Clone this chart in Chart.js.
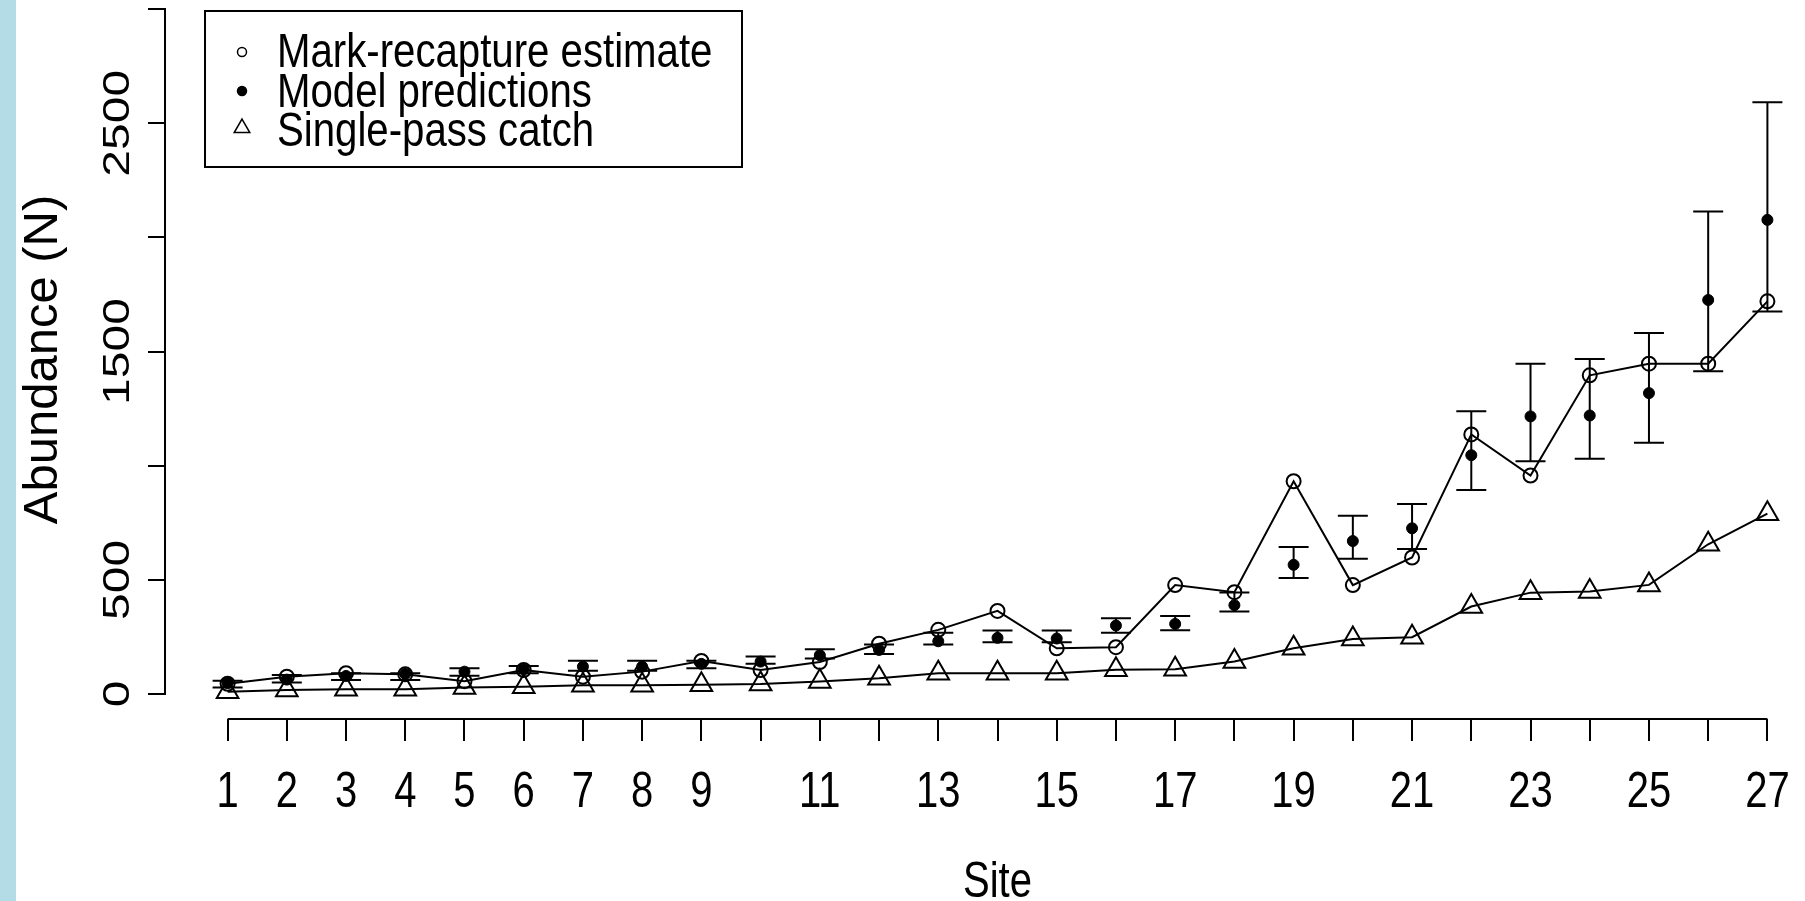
<!DOCTYPE html>
<html>
<head>
<meta charset="utf-8">
<script src="https://cdn.jsdelivr.net/npm/chart.js@4.4.0/dist/chart.umd.min.js"></script>
<style>
html, body { margin: 0; padding: 0; overflow: hidden; background: #fff; }
#wrap { width: 1829px; height: 901px; }
</style>
</head>
<body>
<div id="wrap"><canvas id="myChart" width="1829" height="901"></canvas></div>
<script>
var sites = [1, 2, 3, 4, 5, 6, 7, 8, 9, 10, 11, 12, 13, 14, 15, 16, 17, 18, 19, 20, 21, 22, 23, 24, 25, 26, 27];
var markRecapture = [45, 76, 91, 86, 56, 105, 76, 98, 145, 105, 140, 220, 281, 364, 200, 205, 477, 446, 932, 477, 598, 1137, 957, 1396, 1447, 1447, 1720];
var modelPred = [48, 63, 79, 88, 98, 108, 120, 120, 132, 142, 170, 193, 231, 246, 243, 300, 307, 389, 566, 670, 726, 1046, 1216, 1220, 1318, 1726, 2077];
var modelLower = [29, 50, 61, 61, 80, 91, 102, 102, 113, 132, 155, 175, 217, 227, 227, 268, 279, 361, 508, 592, 635, 894, 1020, 1031, 1101, 1414, 1675];
var modelUpper = [58, 83, 91, 91, 113, 123, 146, 146, 146, 164, 196, 217, 268, 278, 278, 332, 342, 445, 644, 781, 832, 1239, 1447, 1467, 1581, 2114, 2592];
var singlePass = [10, 18, 21, 21, 28, 32, 38, 38, 41, 44, 55, 69, 91, 91, 91, 106, 108, 142, 200, 241, 249, 383, 444, 449, 478, 656, 790];

var xTickLabels = ["1", "2", "3", "4", "5", "6", "7", "8", "9", "", "11", "", "13", "", "15", "", "17", "", "19", "", "21", "", "23", "", "25", "", "27"];
var yTickValues = [0, 500, 1000, 1500, 2000, 2500, 3000];
var yTickLabels = ["0", "500", "", "1500", "", "2500", ""];

var sans = "'Liberation Sans', Arial, sans-serif";

function points(values) {
    return sites.map(function (s, i) { return { x: s, y: values[i] }; });
}

// text squeezed like the original figure (sx, sy: stretch of the glyphs)
function squeezedText(ctx, text, x, y, size, sx, sy, rot) {
    ctx.save();
    ctx.translate(x, y);
    if (rot) ctx.rotate(rot);
    ctx.scale(sx, sy);
    ctx.font = size + "px " + sans;
    ctx.fillStyle = "#000";
    ctx.textBaseline = "alphabetic";
    ctx.fillText(text, 0, 0);
    ctx.restore();
}

var data = {
    datasets: [{
        label: "Mark-recapture estimate",
        data: points(markRecapture),
        borderColor: "#000",
        borderWidth: 2,
        fill: false,
        pointStyle: "circle",
        pointRadius: 7,
        pointBorderWidth: 2,
        pointBorderColor: "#000",
        pointBackgroundColor: "rgba(0,0,0,0)",
        legendRadius: 4.5
    }, {
        label: "Model predictions",
        data: points(modelPred),
        showLine: false,
        pointStyle: "circle",
        pointRadius: 5.5,
        pointBorderWidth: 1,
        pointBorderColor: "#000",
        pointBackgroundColor: "#000",
        legendRadius: 4.5
    }, {
        label: "Single-pass catch",
        data: points(singlePass),
        borderColor: "#000",
        borderWidth: 2,
        fill: false,
        pointStyle: "triangle",
        pointRadius: 12.5,
        pointBorderWidth: 2,
        pointBorderColor: "#000",
        pointBackgroundColor: "rgba(0,0,0,0)",
        legendRadius: 9
    }]
};

// white page with the light blue strip on the left
var background = {
    id: "background",
    beforeDraw: function (chart) {
        var ctx = chart.ctx;
        ctx.save();
        ctx.fillStyle = "#fff";
        ctx.fillRect(0, 0, chart.width, chart.height);
        ctx.fillStyle = "#b4dce7";
        ctx.fillRect(0, 0, 16, chart.height);
        ctx.restore();
    }
};

// R style axis lines (first to last tick) and the tick labels
var rAxes = {
    id: "rAxes",
    afterDraw: function (chart) {
        var ctx = chart.ctx, x = chart.scales.x, y = chart.scales.y;
        var area = chart.chartArea;
        ctx.save();
        ctx.strokeStyle = "#000";
        ctx.lineWidth = 2;
        ctx.beginPath();
        ctx.moveTo(area.left - 1, y.getPixelForValue(yTickValues[0]));
        ctx.lineTo(area.left - 1, y.getPixelForValue(yTickValues[yTickValues.length - 1]));
        ctx.moveTo(x.getPixelForValue(sites[0]), area.bottom);
        ctx.lineTo(x.getPixelForValue(sites[sites.length - 1]), area.bottom);
        ctx.stroke();

        ctx.textAlign = "center";
        sites.forEach(function (s, i) {
            if (xTickLabels[i]) squeezedText(ctx, xTickLabels[i], x.getPixelForValue(s), area.bottom + 88, 50, 0.8, 1, 0);
        });
        yTickValues.forEach(function (v, i) {
            if (yTickLabels[i]) squeezedText(ctx, yTickLabels[i], 129, y.getPixelForValue(v), 48, 1, 0.78, -Math.PI / 2);
        });
        squeezedText(ctx, "Site", (area.left + area.right) / 2, 897, 50, 0.8, 1, 0);
        ctx.restore();
    }
};

// confidence intervals around the model predictions
var errorBars = {
    id: "errorBars",
    afterDatasetsDraw: function (chart) {
        var ctx = chart.ctx, x = chart.scales.x, y = chart.scales.y;
        ctx.save();
        ctx.strokeStyle = "#000";
        ctx.lineWidth = 2;
        ctx.beginPath();
        for (var i = 0; i < sites.length; i++) {
            var px = x.getPixelForValue(sites[i]);
            var lo = y.getPixelForValue(modelLower[i]);
            var hi = y.getPixelForValue(modelUpper[i]);
            ctx.moveTo(px, lo);
            ctx.lineTo(px, hi);
            ctx.moveTo(px - 15, lo);
            ctx.lineTo(px + 15, lo);
            ctx.moveTo(px - 15, hi);
            ctx.lineTo(px + 15, hi);
        }
        ctx.stroke();
        ctx.restore();
    }
};

// boxed legend in the top left corner
var boxLegend = {
    id: "boxLegend",
    afterDraw: function (chart) {
        var ctx = chart.ctx;
        var symbolY = [52, 91, 128];
        var textY = [67, 107, 146];
        ctx.save();
        ctx.strokeStyle = "#000";
        ctx.lineWidth = 2;
        ctx.strokeRect(205, 11, 537, 156);
        chart.data.datasets.forEach(function (ds, i) {
            ctx.fillStyle = ds.pointBackgroundColor;
            ctx.strokeStyle = "#000";
            ctx.lineWidth = 1.5;
            Chart.helpers.drawPoint(ctx, {
                pointStyle: ds.pointStyle,
                radius: ds.legendRadius,
                borderWidth: 1.5,
                rotation: 0
            }, 242, symbolY[i]);
            ctx.textAlign = "left";
            squeezedText(ctx, ds.label, 277, textY[i], 49, 0.82, 1, 0);
        });
        ctx.restore();
    }
};

var options = {
    responsive: false,
    animation: false,
    devicePixelRatio: 1,
    layout: { padding: 0, autoPadding: false },
    plugins: {
        legend: { display: false },
        tooltip: { enabled: false }
    },
    scales: {
        x: {
            type: "linear",
            min: -0.04,
            max: 28.04,
            afterBuildTicks: function (scale) {
                scale.ticks = sites.map(function (v) { return { value: v }; });
            },
            afterFit: function (scale) {
                scale.height = 182;
                scale.paddingLeft = 0;
                scale.paddingRight = 0;
            },
            ticks: { display: false, autoSkip: false },
            grid: {
                drawOnChartArea: false,
                drawTicks: true,
                tickLength: 22,
                color: "#000",
                lineWidth: 2
            },
            border: { display: false }
        },
        y: {
            type: "linear",
            min: -109.5,
            max: 3040,
            afterBuildTicks: function (scale) {
                scale.ticks = yTickValues.map(function (v) { return { value: v }; });
            },
            afterFit: function (scale) {
                scale.width = 166;
                scale.paddingTop = 0;
                scale.paddingBottom = 0;
            },
            ticks: { display: false },
            grid: {
                drawOnChartArea: false,
                drawTicks: true,
                tickLength: 18,
                color: "#000",
                lineWidth: 2
            },
            border: { display: false },
            title: {
                display: true,
                text: "Abundance (N)",
                color: "#000",
                padding: { top: 14, bottom: 0 },
                font: { family: sans, size: 49 }
            }
        }
    }
};

var ctx = document.getElementById('myChart').getContext('2d');
var chart = new Chart(ctx, {
    type: 'line',
    data,
    options,
    plugins: [background, errorBars, rAxes, boxLegend]
});
</script>
</body>
</html>
